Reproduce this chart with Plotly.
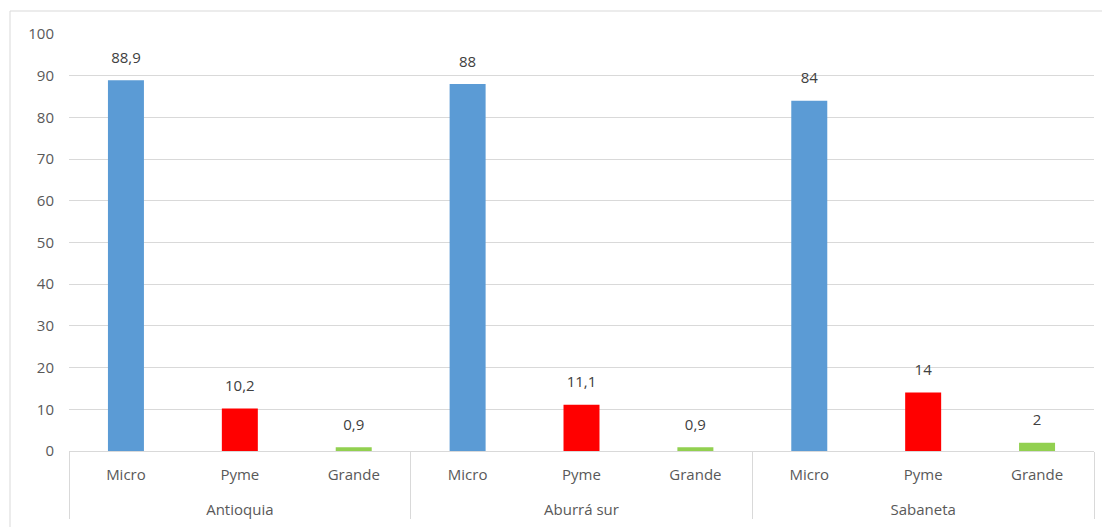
import plotly.graph_objects as go

# Share of firms by size, per territory (%)
regions = ["Antioquia", "Aburrá sur", "Sabaneta"]
sizes = ["Micro", "Pyme", "Grande"]
values = {
    "Antioquia": [88.9, 10.2, 0.9],
    "Aburrá sur": [88, 11.1, 0.9],
    "Sabaneta": [84, 14, 2],
}
size_colors = {"Micro": "#5B9BD5", "Pyme": "#FF0000", "Grande": "#92D050"}
y_ticks = list(range(0, 101, 10))

# inner tick labels get an empty second line so the region row sits lower
x_outer = [r for r in regions for _ in sizes]
x_inner = [f"{s}<br><span style='font-size:23px'> </span>" for _ in regions for s in sizes]
y_vals = [v for r in regions for v in values[r]]
labels = [f"{v:g}".replace(".", ",") for v in y_vals]
colors = [size_colors[s] for _ in regions for s in sizes]

W, H = 1102, 527
ML, MR, MT, MB = 69, 8, 34, 76

fig = go.Figure()
fig.add_trace(go.Bar(
    x=[x_outer, x_inner], y=y_vals,
    marker=dict(color=colors, line=dict(width=0)),
    showlegend=False, hoverinfo="skip",
))
# value labels above each bar
fig.add_trace(go.Scatter(
    x=[x_outer, x_inner], y=y_vals,
    mode="markers+text", text=labels, textposition="top center",
    marker=dict(size=20, color="rgba(0,0,0,0)"),
    textfont=dict(family="Open Sans", size=15, color="#404040"),
    showlegend=False, hoverinfo="skip", cliponaxis=False,
))

pw = W - ML - MR
ph = H - MT - MB
# chart frame (light grey border)
fig.add_shape(type="rect", xref="paper", yref="paper",
              x0=(10 - ML) / pw, x1=(W + 2 - ML) / pw,
              y0=-(H + 5 - MT - ph) / ph, y1=(H - MB - 11) / ph,
              line=dict(color="#D9D9D9", width=1), fillcolor="rgba(0,0,0,0)",
              layer="below")

fig.update_layout(
    width=W, height=H,
    margin=dict(l=ML, r=MR, t=MT, b=MB, pad=0),
    paper_bgcolor="white", plot_bgcolor="white",
    bargap=0.684,
    font=dict(family="Open Sans", size=15, color="#595959"),
)
fig.update_yaxes(
    range=[0, 100], tickvals=y_ticks, ticks="", showline=False,
    gridcolor="#D9D9D9", gridwidth=1, zeroline=False,
    tickfont=dict(size=15, color="#595959"), ticklabelstandoff=14,
)
fig.update_xaxes(
    type="multicategory", range=[-0.5, len(x_inner) - 0.5],
    showline=True, linecolor="#D9D9D9", linewidth=1, ticks="",
    showdividers=True, dividercolor="#D9D9D9", dividerwidth=1,
    tickfont=dict(size=15, color="#595959"), ticklabelstandoff=10,
)

fig.write_html("out.html")
